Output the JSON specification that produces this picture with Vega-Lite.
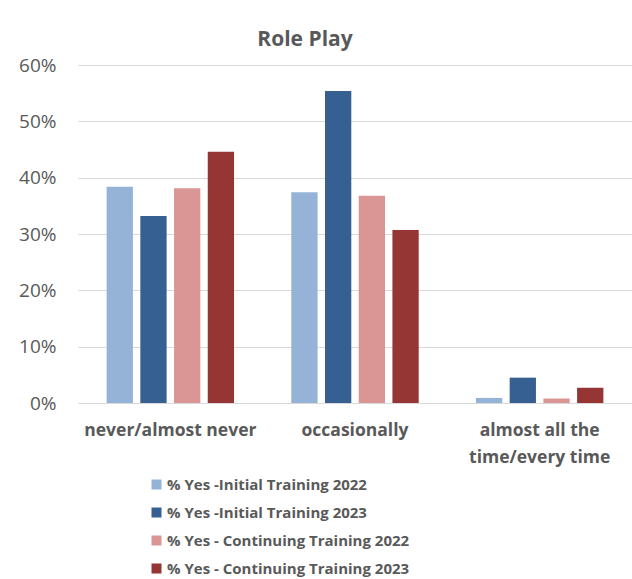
{
  "$schema": "https://vega.github.io/schema/vega-lite/v6.json",
  "width": 554,
  "height": 338,
  "autosize": {"type": "none"},
  "padding": {"left": 78, "top": 65, "right": 0, "bottom": 176},
  "background": "white",
  "title": {
    "text": "Role Play",
    "font": "Open Sans",
    "fontSize": 21,
    "fontWeight": "bold",
    "color": "#595959",
    "anchor": "middle",
    "dx": -50,
    "offset": 6
  },
  "data": {
    "values": [
      {"cat": "never/almost never", "series": "% Yes -Initial Training 2022", "v": 0.384},
      {"cat": "never/almost never", "series": "% Yes -Initial Training 2023", "v": 0.332},
      {"cat": "never/almost never", "series": "% Yes - Continuing Training 2022", "v": 0.381},
      {"cat": "never/almost never", "series": "% Yes - Continuing Training 2023", "v": 0.446},
      {"cat": "occasionally", "series": "% Yes -Initial Training 2022", "v": 0.374},
      {"cat": "occasionally", "series": "% Yes -Initial Training 2023", "v": 0.554},
      {"cat": "occasionally", "series": "% Yes - Continuing Training 2022", "v": 0.368},
      {"cat": "occasionally", "series": "% Yes - Continuing Training 2023", "v": 0.307},
      {"cat": "almost all the time/every time", "series": "% Yes -Initial Training 2022", "v": 0.009},
      {"cat": "almost all the time/every time", "series": "% Yes -Initial Training 2023", "v": 0.045},
      {"cat": "almost all the time/every time", "series": "% Yes - Continuing Training 2022", "v": 0.008},
      {"cat": "almost all the time/every time", "series": "% Yes - Continuing Training 2023", "v": 0.027}
    ]
  },
  "mark": {"type": "bar"},
  "encoding": {
    "x": {
      "field": "cat",
      "type": "nominal",
      "sort": ["never/almost never", "occasionally", "almost all the time/every time"],
      "scale": {"paddingInner": 0.31, "paddingOuter": 0.155},
      "axis": {
        "title": null,
        "domain": false,
        "ticks": false,
        "labelAngle": 0,
        "labelFont": "Open Sans",
        "labelFontSize": 17.5,
        "labelFontWeight": "bold",
        "labelColor": "#595959",
        "labelPadding": 18,
        "labelLineHeight": 27,
        "labelExpr": "datum.value == 'almost all the time/every time' ? ['almost all the', 'time/every time'] : datum.value"
      }
    },
    "xOffset": {
      "field": "series",
      "type": "nominal",
      "sort": ["% Yes -Initial Training 2022", "% Yes -Initial Training 2023", "% Yes - Continuing Training 2022", "% Yes - Continuing Training 2023"],
      "scale": {"paddingInner": 0.22, "paddingOuter": 0}
    },
    "y": {
      "field": "v",
      "type": "quantitative",
      "scale": {"domain": [0, 0.6], "nice": false},
      "axis": {
        "title": null,
        "format": ".0%",
        "values": [0, 0.1, 0.2, 0.3, 0.4, 0.5, 0.6],
        "domain": false,
        "ticks": false,
        "labelFont": "Open Sans",
        "labelFontSize": 19,
        "labelColor": "#595959",
        "labelPadding": 22,
        "gridColor": "#d9d9d9",
        "gridWidth": 1
      }
    },
    "color": {
      "field": "series",
      "type": "nominal",
      "sort": ["% Yes -Initial Training 2022", "% Yes -Initial Training 2023", "% Yes - Continuing Training 2022", "% Yes - Continuing Training 2023"],
      "scale": {"range": ["#95b3d7", "#376092", "#da9694", "#963634"]},
      "legend": {
        "title": null,
        "orient": "none",
        "legendX": 71,
        "legendY": 412,
        "direction": "vertical",
        "symbolType": "square",
        "symbolSize": 100,
        "symbolStrokeWidth": 0,
        "labelFont": "Open Sans",
        "labelFontSize": 15,
        "labelFontWeight": "bold",
        "labelColor": "#595959",
        "labelOffset": 3,
        "rowPadding": 12,
        "labelLimit": 400
      }
    }
  },
  "config": {"view": {"stroke": null}}
}
